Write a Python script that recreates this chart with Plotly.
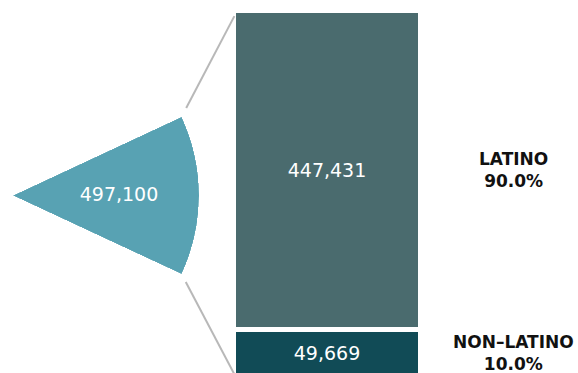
import math
import plotly.graph_objects as go

# ---------------- data ----------------
total_value = 497100
groups = ["LATINO", "NON–LATINO"]
group_values = [447431, 49669]

# ---------------- style ----------------
W, H = 578, 373
TEAL = "#58a2b3"
SLATE = "#4a6b6e"
DARK = "#114b56"
LINE = "#b8b8b8"
FONT = "DejaVu Sans"


def px(x):
    return x / W


def py(y):
    return 1 - y / H


# wedge geometry (pixels)
half = 25
apex_x, apex_y, radius = 13, 195.5, 186
s = math.sin(math.radians(half))
c = math.cos(math.radians(half))
wedge_dom_x = [px(apex_x), px(apex_x + radius)]
wedge_dom_y = [py(apex_y + radius * s), py(apex_y - radius * s)]

# bar geometry (pixels)
bar_left, bar_right = 236, 418
lat_top, lat_bot = 13, 327.3
non_top, non_bot = 332, 373

pcts = [v / total_value * 100 for v in group_values]

fig = go.Figure()

fig.add_trace(go.Barpolar(
    r=[1], theta=[0], width=[2 * half], marker_color=TEAL,
    marker_line_width=0, hoverinfo="skip", subplot="polar",
))
fig.add_trace(go.Scatterpolar(
    r=[0.57], theta=[-0.6], mode="text", text=[f"{total_value:,}"],
    textfont=dict(color="white", size=19, family=FONT),
    hoverinfo="skip", subplot="polar",
))

bar_colors = [SLATE, DARK]
bar_axes = ["y2", "y"]
for g, v, col, ax in zip(groups, group_values, bar_colors, bar_axes):
    fig.add_trace(go.Bar(
        x=[0], y=[v], width=[1], marker_color=col, marker_line_width=0,
        text=[f"{v:,}"], textposition="inside", insidetextanchor="middle",
        textfont=dict(color="white", size=19, family=FONT),
        xaxis="x", yaxis=ax, hoverinfo="skip", name=g,
    ))

label_x = px(513)
annotations = [
    dict(xref="paper", yref="y2", x=label_x, y=group_values[0] / 2,
         text=f"<b>{groups[0]}<br>{pcts[0]:.1f}%</b>", showarrow=False,
         xanchor="center", yanchor="middle",
         font=dict(size=17, color="#111111", family=FONT)),
    dict(xref="paper", yref="y", x=label_x, y=group_values[1] / 2,
         text=f"<b>{groups[1]}<br>{pcts[1]:.1f}%</b>", showarrow=False,
         xanchor="center", yanchor="middle",
         font=dict(size=17, color="#111111", family=FONT)),
]


def connector(p0, p1, gap0, gap1):
    dx, dy = p1[0] - p0[0], p1[1] - p0[1]
    L = math.hypot(dx, dy)
    ux, uy = dx / L, dy / L
    a = (p0[0] + ux * gap0, p0[1] + uy * gap0)
    b = (p1[0] - ux * gap1, p1[1] - uy * gap1)
    return dict(type="line", xref="paper", yref="paper",
                x0=px(a[0]), y0=py(a[1]), x1=px(b[0]), y1=py(b[1]),
                line=dict(color=LINE, width=2))


top_corner = (apex_x + radius * c, apex_y - radius * s)
bot_corner = (apex_x + radius * c, apex_y + radius * s)
shapes = [
    connector(top_corner, (bar_left, lat_top), 10, 3.5),
    connector(bot_corner, (bar_left - 1.5, non_bot + 1.5), 9, 0),
]

fig.update_layout(
    width=W, height=H, margin=dict(l=0, r=0, t=0, b=0),
    paper_bgcolor="white", plot_bgcolor="white", showlegend=False,
    font=dict(family=FONT),
    polar=dict(
        domain=dict(x=wedge_dom_x, y=wedge_dom_y),
        sector=[-half, half], hole=0, bgcolor="rgba(0,0,0,0)",
        radialaxis=dict(visible=False, range=[0, 1]),
        angularaxis=dict(visible=False),
    ),
    xaxis=dict(domain=[px(bar_left), px(bar_right)], range=[-0.5, 0.5],
               visible=False, anchor="y", fixedrange=True),
    yaxis=dict(domain=[py(non_bot), py(non_top)], range=[0, group_values[1]],
               visible=False, anchor="x", fixedrange=True),
    yaxis2=dict(domain=[py(lat_bot), py(lat_top)], range=[0, group_values[0]],
                visible=False, anchor="x", fixedrange=True),
    bargap=0,
    annotations=annotations,
    shapes=shapes,
)

fig.write_html("out.html", config={"displayModeBar": False})
